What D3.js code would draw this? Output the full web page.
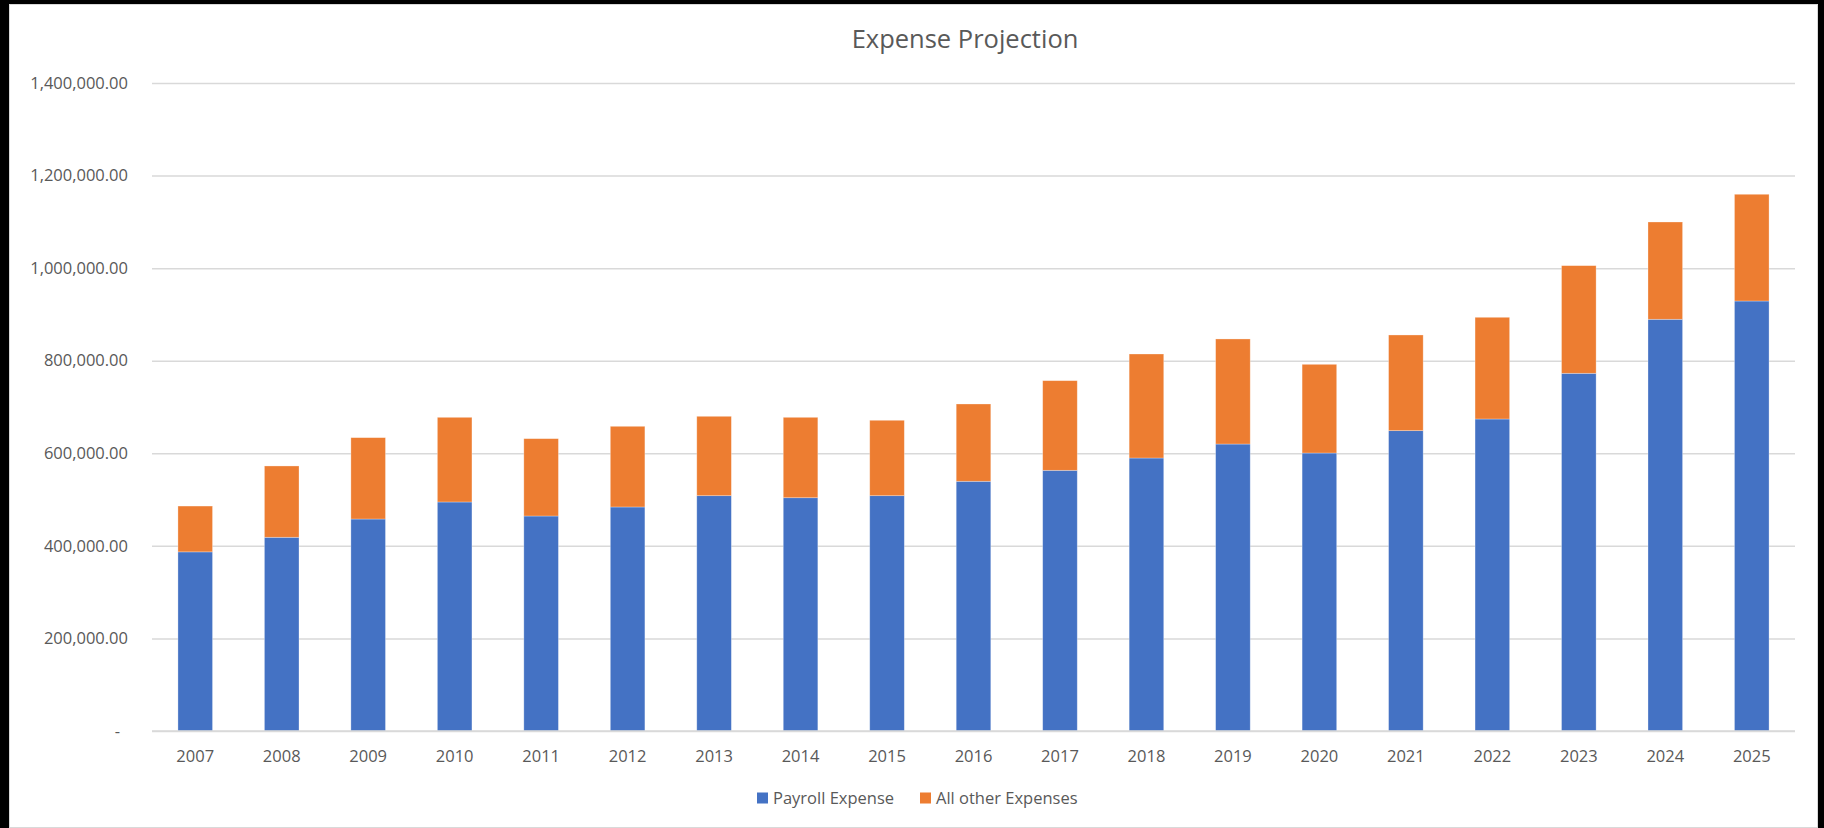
<!DOCTYPE html>
<html>
<head>
<meta charset="utf-8">
<script src="https://cdn.jsdelivr.net/npm/d3@7"></script>
<style>
  body { margin: 0; background: #000; }
  svg { display: block; }
  text { font-family: "Open Sans", "Noto Sans", sans-serif; fill: #595959; }
</style>
</head>
<body>
<div id="app"></div>
<script>
const years = ["2007", "2008", "2009", "2010", "2011", "2012", "2013", "2014", "2015", "2016",
  "2017", "2018", "2019", "2020", "2021", "2022", "2023", "2024", "2025"];

const payroll = [387000, 418500, 458000, 494800, 464500, 484000, 508400, 504000, 508400, 539500,
  563200, 589800, 620000, 600600, 648900, 674100, 772800, 889500, 929000];

const otherExpenses = [99000, 154100, 175800, 182900, 167100, 174300, 171500, 173700, 162900, 167000,
  193700, 224700, 227000, 191600, 206700, 219700, 232600, 210200, 230600];

const seriesNames = ["Payroll Expense", "All other Expenses"];
const colors = ["#4472C4", "#ED7D31"];
const yTicks = [0, 200000, 400000, 600000, 800000, 1000000, 1200000, 1400000];

const width = 1824, height = 828;
const margin = {top: 83, right: 29, bottom: 97, left: 152};

const rows = years.map((y, i) => ({year: y, payroll: payroll[i], other: otherExpenses[i]}));
const stack = d3.stack().keys(["payroll", "other"])(rows);

const x = d3.scaleBand()
    .domain(years)
    .range([margin.left, width - margin.right])
    .paddingInner(0.6)
    .paddingOuter(0.3);

const y = d3.scaleLinear()
    .domain([0, 1400000])
    .range([height - margin.bottom, margin.top]);

const svg = d3.select("#app").append("svg")
    .attr("width", width)
    .attr("height", height)
    .attr("viewBox", [0, 0, width, height]);

// chart area
svg.append("rect")
    .attr("x", 9.5).attr("y", 4.5)
    .attr("width", 1808).attr("height", 823)
    .attr("fill", "#fff")
    .attr("stroke", "#d9d9d9");

// title
svg.append("text")
    .attr("x", 965).attr("y", 48)
    .attr("text-anchor", "middle")
    .attr("font-size", 25.5)
    .text("Expense Projection");

// y axis + gridlines
const fmt = d3.format(",.2f");
const yAxis = svg.append("g")
    .attr("transform", `translate(${margin.left},0)`)
    .call(d3.axisLeft(y)
      .tickValues(yTicks)
      .tickSize(-(width - margin.left - margin.right))
      .tickPadding(24)
      .tickFormat(d => d === 0 ? "-" : fmt(d)));
yAxis.select(".domain").remove();
yAxis.selectAll(".tick line").attr("stroke", "#d9d9d9").attr("stroke-width", 1.5);
yAxis.selectAll(".tick text")
    .attr("font-size", 16.5)
    .attr("fill", "#595959")
    .style("font-family", "'Open Sans', sans-serif");
yAxis.selectAll(".tick").filter(d => d === 0).select("text").attr("dx", -8);

// bars
svg.append("g")
  .selectAll("g")
  .data(stack)
  .join("g")
    .attr("fill", (d, i) => colors[i])
  .selectAll("rect")
  .data(d => d)
  .join("rect")
    .attr("x", d => x(d.data.year))
    .attr("width", x.bandwidth())
    .attr("y", d => y(d[1]))
    .attr("height", d => y(d[0]) - y(d[1]))
    .attr("stroke", "#fff")
    .attr("stroke-opacity", 0.4)
    .attr("stroke-width", 0.75);

// x axis
const xAxis = svg.append("g")
    .attr("transform", `translate(0,${height - margin.bottom})`)
    .call(d3.axisBottom(x).tickSize(0).tickPadding(19));
xAxis.select(".domain").attr("stroke", "#d9d9d9").attr("stroke-width", 1.5)
    .attr("d", `M${margin.left},0H${width - margin.right}`);
xAxis.selectAll(".tick text")
    .attr("font-size", 16.5)
    .attr("fill", "#595959")
    .style("font-family", "'Open Sans', sans-serif");

// legend
const legendX = [757, 920];
const legend = svg.append("g")
  .selectAll("g")
  .data(seriesNames)
  .join("g")
    .attr("transform", (d, i) => `translate(${legendX[i]},798)`);
legend.append("rect")
    .attr("x", 0).attr("y", -5.5)
    .attr("width", 11).attr("height", 11)
    .attr("fill", (d, i) => colors[i]);
legend.append("text")
    .attr("x", 16).attr("dy", "0.35em")
    .attr("font-size", 16.5)
    .text(d => d);
</script>
</body>
</html>
